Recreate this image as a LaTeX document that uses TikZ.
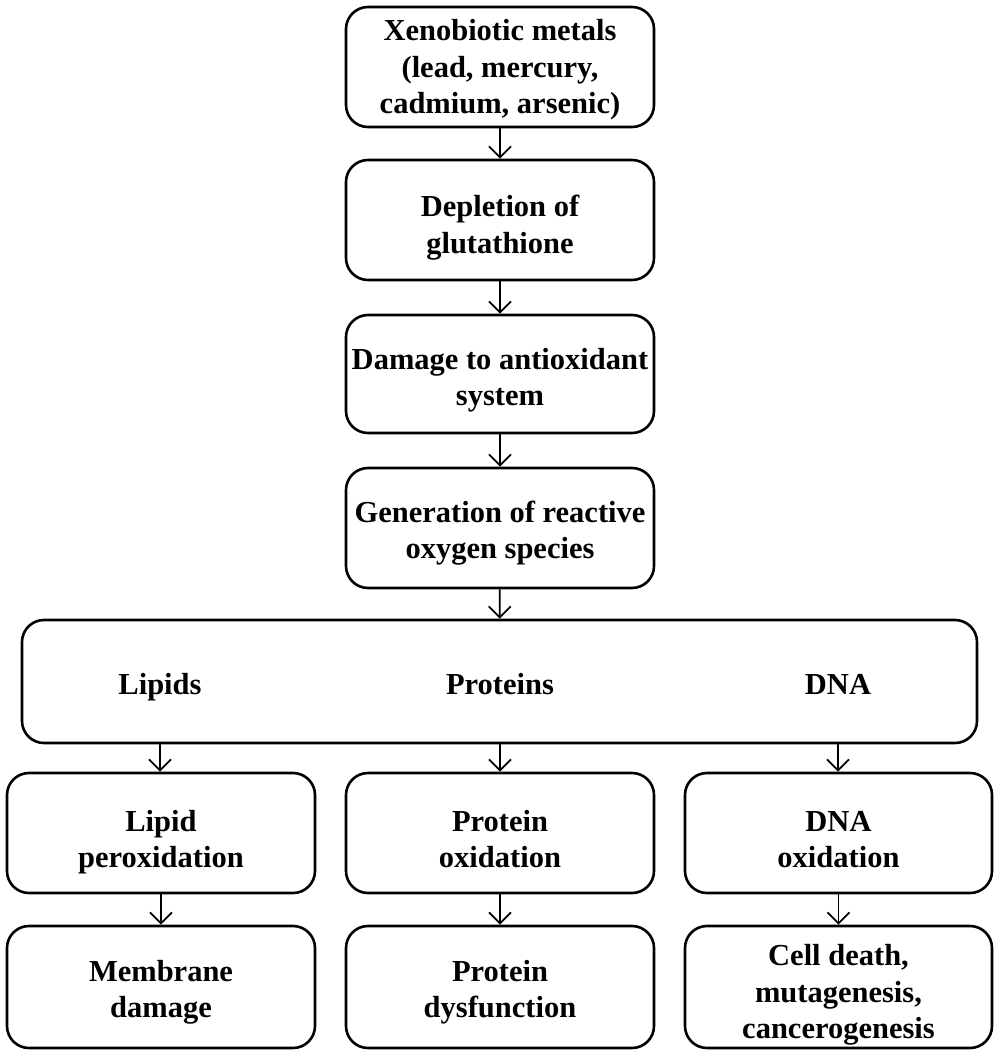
\documentclass[tikz,border=0pt]{standalone}
\usepackage{fontspec}
\setmainfont{Liberation Serif}
\usetikzlibrary{arrows.meta}
\begin{document}
\begin{tikzpicture}[x=1pt,y=-1pt,
  box/.style={draw, line width=2.6pt, rounded corners=22pt, minimum width=308pt, minimum height=120pt, inner sep=0pt},
  txt/.style={align=center, inner sep=0pt, font=\fontsize{30.5}{36.5}\selectfont\bfseries},
  lab/.style={anchor=base, inner sep=0pt, font=\fontsize{30.5}{36.5}\selectfont\bfseries},
  arr/.style={line width=1.8pt, -{Straight Barb[length=11pt,width=22pt,line width=1.8pt]}}]
\useasboundingbox (0,0) rectangle (999,1056);
\node[box] (b1) at (500,67) {};
\node[box] (b2) at (500,220) {};
\node[box, minimum height=118pt] (b3) at (500,374) {};
\node[box] (b4) at (500,528) {};
\node[box, minimum width=955pt, minimum height=123pt] (big) at (499.5,681.5) {};
\node[box] (ra) at (161,833) {};
\node[box] (rb) at (500,833) {};
\node[box, minimum width=307pt] (rc) at (838.5,833) {};
\node[box, minimum height=122pt] (sa) at (161,987) {};
\node[box, minimum height=122pt] (sb) at (500,987) {};
\node[box, minimum width=307pt, minimum height=122pt] (sc) at (838.5,987) {};
\node[txt, yshift=-3pt] (t1) at (b1) {\strut Xenobiotic metals\\\strut(lead, mercury,\\\strut cadmium, arsenic)};
\node[txt, yshift=-7.5pt] (t2) at (b2) {\strut Depletion of\\\strut glutathione};
\node[txt, yshift=-6pt] (t3) at (b3) {\strut Damage to antioxidant\\\strut system};
\node[txt, yshift=-5pt] (t4) at (b4) {\strut Generation of reactive\\\strut oxygen species};
\node[lab] (lip) at (160,694) {Lipids};
\node[lab] (pro) at (500,694) {Proteins};
\node[lab] (dna) at (838,694) {DNA};
\node[txt, yshift=-9pt] (ta) at (ra) {\strut Lipid\\\strut peroxidation};
\node[txt, yshift=-9pt] (tb) at (rb) {\strut Protein\\\strut oxidation};
\node[txt, yshift=-9pt] (tc) at (rc) {\strut DNA\\\strut oxidation};
\node[txt, yshift=-5pt] (ua) at (sa) {\strut Membrane\\\strut damage};
\node[txt, yshift=-5pt] (ub) at (sb) {\strut Protein\\\strut dysfunction};
\node[txt, yshift=-8pt] (uc) at (sc) {\strut Cell death,\\\strut mutagenesis,\\\strut cancerogenesis};
\draw[arr] (b1) -- (b2);
\draw[arr] (b2) -- (b3);
\draw[arr] (b3) -- (b4);
\draw[arr] (b4) -- (big);
\draw[arr] (big.south -| lip) -- (ra.north -| lip);
\draw[arr] (big.south -| pro) -- (rb.north -| pro);
\draw[arr] (big.south -| dna) -- (rc.north -| dna);
\draw[arr] (ra) -- (sa);
\draw[arr] (rb) -- (sb);
\draw[arr] (rc) -- (sc);
\end{tikzpicture}
\end{document}
